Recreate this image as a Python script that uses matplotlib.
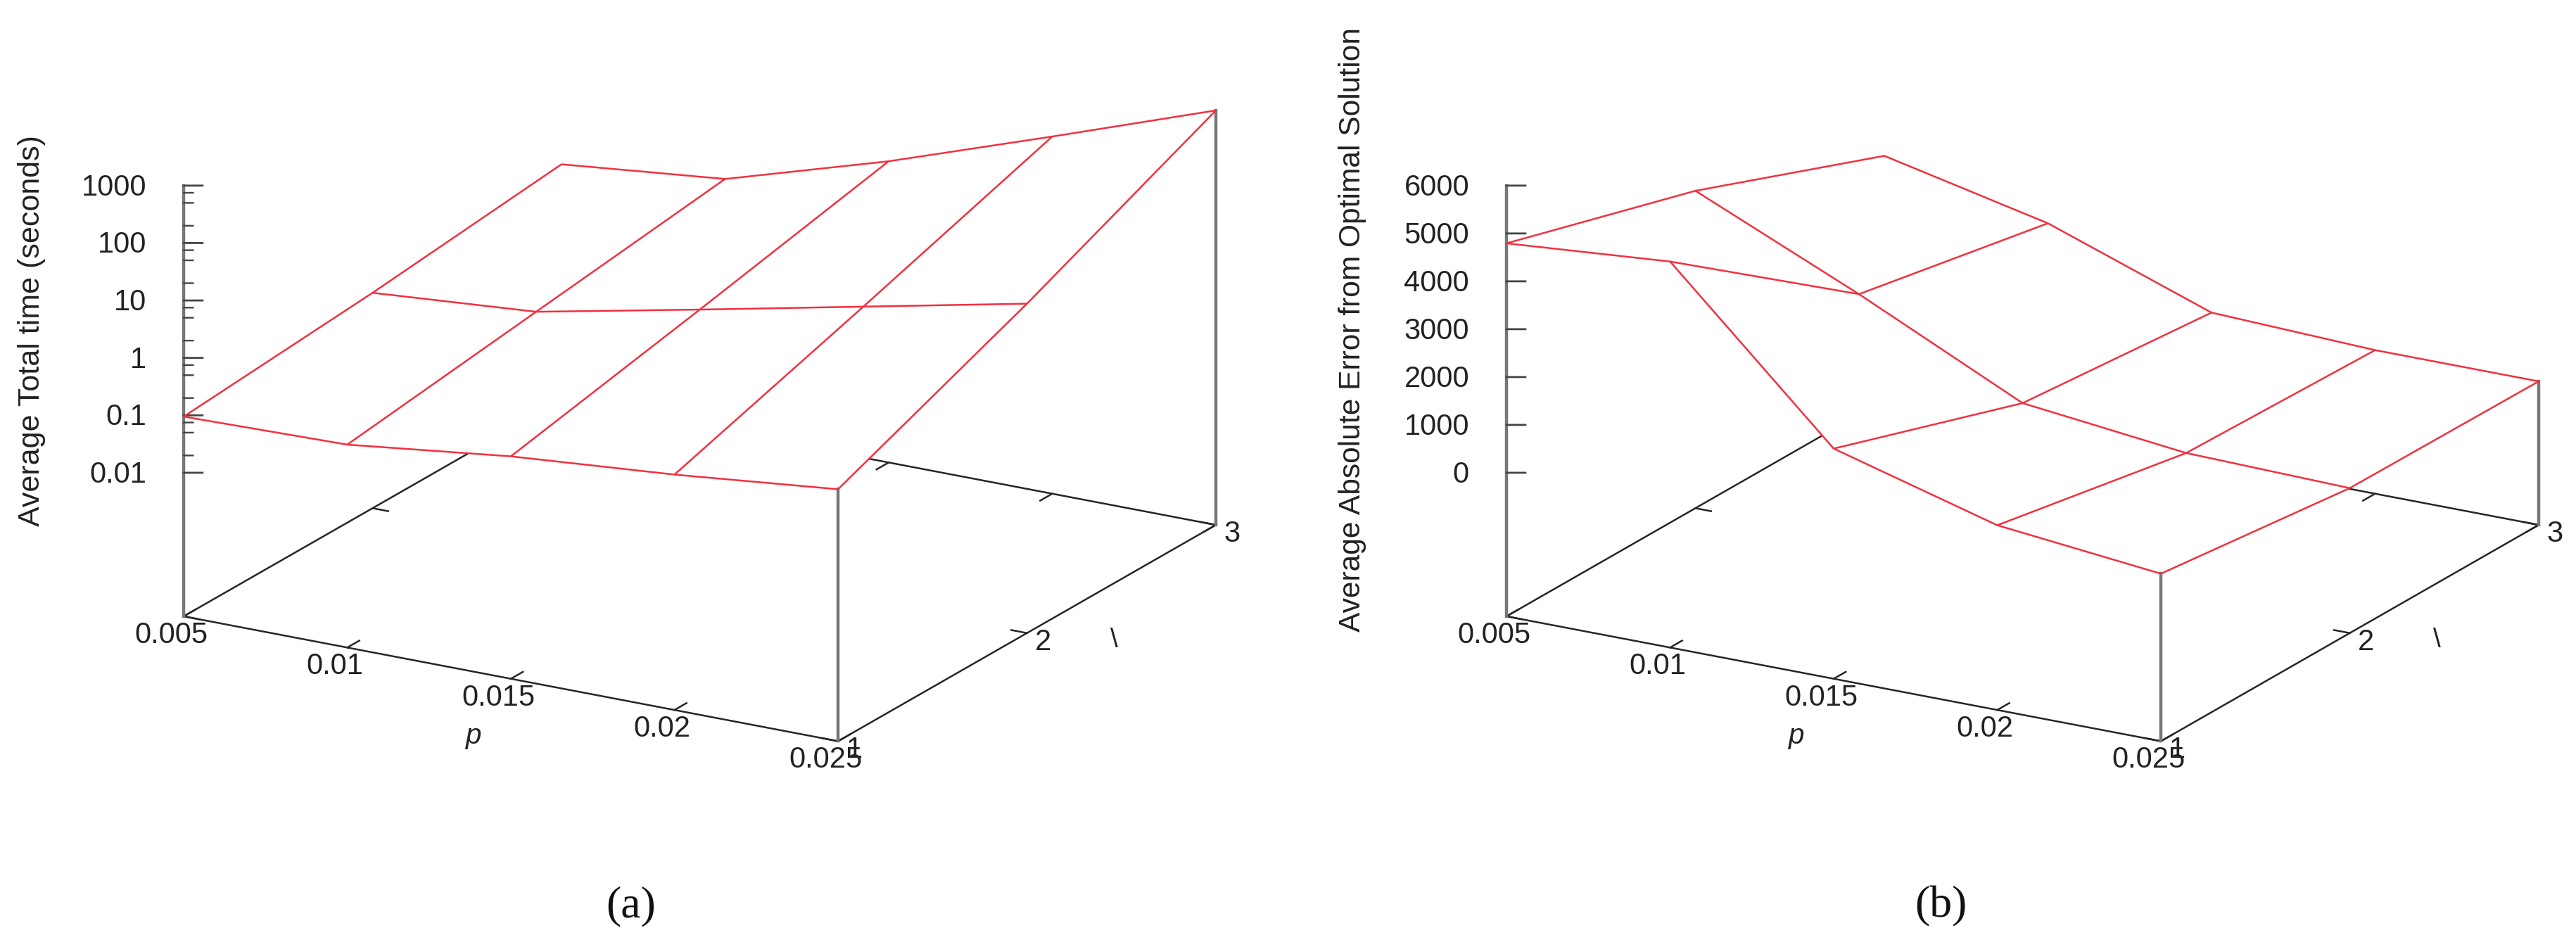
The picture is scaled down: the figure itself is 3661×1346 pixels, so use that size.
import numpy as np
import matplotlib
matplotlib.use("Agg")
import matplotlib.pyplot as plt
from mpl_toolkits.mplot3d import proj3d

# values
p_values = [0.005, 0.01, 0.015, 0.02, 0.025]
p_labels = ["0.005", "0.01", "0.015", "0.02", "0.025"]
lam_values = [1, 2, 3]

# average total time in seconds, one row per lambda
time_lam1 = [0.095, 0.108, 0.236, 0.397, 0.771]
time_lam2 = [0.178, 0.291, 1.11, 4.37, 17.2]
time_lam3 = [0.403, 0.782, 5.56, 52.4, 522]

# average absolute error, one row per lambda
error_lam1 = [4794, 5066, 1809, 860, 500]
error_lam2 = [3632, 2125, 500, 110, 29]
error_lam3 = [2103, 1346, 132, 0, 0]

time_ticks = [0.01, 0.1, 1, 10, 100, 1000]
time_tick_labels = ["0.01", "0.1", "1", "10", "100", "1000"]
time_minor = [0.02, 0.05, 0.075, 0.2, 0.5, 0.75, 2, 5, 7.5, 20, 50, 75, 200, 500, 750]
error_ticks = [0, 1000, 2000, 3000, 4000, 5000, 6000]
error_tick_labels = ["0", "1000", "2000", "3000", "4000", "5000", "6000"]

W, H = 3661, 1346
RED = "#f2303f"
GRAY = "#777777"
DARK = "#262626"
TEXT = "#222222"

plt.rcParams["font.family"] = ["Liberation Sans", "DejaVu Sans"]
fig = plt.figure(figsize=(W / 100, H / 100), dpi=100)


def to_screen(ax, x, y, z):
    sx, sy, _ = proj3d.proj_transform(x, y, z, ax.get_proj())
    px, py = ax.transData.transform((sx, sy))
    return px, H - py


def put_text(x, y, s, **kw):
    return fig.text(x / W, 1 - y / H, s, color=TEXT, **kw)


def draw_panel(rows, z_low, z_high, ticks, tick_labels, minor, ylabel, ylabel_size, left_px, label_xy, caption, caption_x, log=False):
    def zv(v):
        return np.log10(v) if log else v

    size = 2000
    ax = fig.add_axes([0, 0, size / W, size / H], projection="3d", proj_type="ortho", computed_zorder=False)
    ax.view_init(elev=19.3, azim=-60)
    ax.set_box_aspect((1, 1, 0.604))
    ax.set_axis_off()
    ax.patch.set_visible(False)
    ax.set_xlim(p_values[0], p_values[-1])
    ax.set_ylim(lam_values[0], lam_values[-1])
    ax.set_zlim(z_low, z_high)

    # scale then shift the axes so the base corners land where they should
    fig.canvas.draw()
    x0, _ = to_screen(ax, p_values[0], lam_values[0], z_low)
    x1, _ = to_screen(ax, p_values[-1], lam_values[-1], z_low)
    size = size * 1467 / (x1 - x0)
    ax.set_position([0, 0, size / W, size / H])
    fig.canvas.draw()
    x0, y0 = to_screen(ax, p_values[0], lam_values[0], z_low)
    ax.set_position([(left_px - x0) / W, (y0 - 876) / H, size / W, size / H])
    fig.canvas.draw()

    P, L = np.meshgrid(p_values, lam_values)
    Z = zv(np.array(rows, dtype=float))
    xr = p_values[-1] - p_values[0]
    yr = lam_values[-1] - lam_values[0]
    p0, p1 = p_values[0], p_values[-1]
    l0, l1 = lam_values[0], lam_values[-1]

    # base square, the surface paints over whatever it hides
    base = dict(color=DARK, linewidth=1.8, zorder=1)
    ax.plot([p0, p1], [l0, l0], [z_low, z_low], **base)
    ax.plot([p1, p1], [l0, l1], [z_low, z_low], **base)
    ax.plot([p0, p0], [l0, l1], [z_low, z_low], **base)
    ax.plot([p0, p1], [l1, l1], [z_low, z_low], **base)
    for v in p_values:
        ax.plot([v, v], [l0, l0 + 0.032 * yr], [z_low, z_low], **base)
        ax.plot([v, v], [l1, l1 - 0.032 * yr], [z_low, z_low], **base)
    for v in lam_values:
        ax.plot([p0, p0 + 0.024 * xr], [v, v], [z_low, z_low], **base)
        ax.plot([p1, p1 - 0.024 * xr], [v, v], [z_low, z_low], **base)

    ax.plot_surface(P, L, Z, color="white", shade=False, linewidth=0, antialiased=False, zorder=2)

    # verticals and z ticks
    side = dict(color=GRAY, linewidth=3.2, zorder=2.5)
    ax.plot([p0, p0], [l0, l0], [z_low, zv(ticks[-1])], **side)
    ax.plot([p1, p1], [l0, l0], [z_low, Z[0, -1]], **side)
    ax.plot([p1, p1], [l1, l1], [z_low, Z[-1, -1]], **side)
    for v in ticks:
        ax.plot([p0, p0 + 0.0217 * xr], [l0, l0 + 0.0125 * yr], [zv(v), zv(v)], color="#444444", linewidth=2, zorder=2.6)
    for v in minor:
        ax.plot([p0, p0 + 0.0108 * xr], [l0, l0 + 0.0062 * yr], [zv(v), zv(v)], color="#444444", linewidth=1.7, zorder=2.6)

    ax.plot_wireframe(P, L, Z, color=RED, linewidth=1.8, zorder=3)

    # tick labels go next to the projected tick positions
    for v, s in zip(ticks, tick_labels):
        x, y = to_screen(ax, p0, l0, zv(v))
        put_text(x - 53, y + 3, s, fontsize=30, ha="right", va="center")
    for v, s in zip(p_values, p_labels):
        x, y = to_screen(ax, v, l0, z_low)
        put_text(x - 18, y + 27, s, fontsize=30, ha="center", va="center")
    for v in lam_values:
        x, y = to_screen(ax, p1, v, z_low)
        put_text(x + 23, y + 13, str(v), fontsize=30, ha="center", va="center")

    put_text(left_px + label_xy[0], label_xy[1], ylabel, fontsize=ylabel_size, rotation=90, ha="center", va="center")
    put_text(left_px + 412, 1046, "p", fontsize=29, style="italic", ha="center", va="center")
    put_text(left_px + 1322, 910, "\\", fontsize=28, ha="center", va="center")
    fig.text(caption_x / W, 1 - 1288 / H, caption, fontsize=46, family="Liberation Serif", color="#111111", ha="center", va="center")


draw_panel([time_lam1, time_lam2, time_lam3], -4.5, 3, time_ticks, time_tick_labels, time_minor,
           "Average Total time (seconds)", 31, 261, (-216, 470), "(a)", 897, log=True)
draw_panel([error_lam1, error_lam2, error_lam3], -3000, 6000, error_ticks, error_tick_labels, [],
           "Average Absolute Error from Optimal Solution", 30.6, 2141, (-219, 469), "(b)", 2758)

fig.savefig("out.png", dpi=100, facecolor="white")
